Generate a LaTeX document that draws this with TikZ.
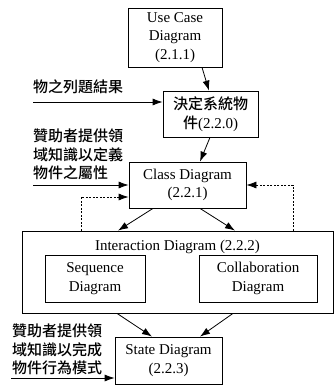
\documentclass[tikz,border=0pt]{standalone}
\usepackage{fontspec}
\setmainfont{Liberation Serif}
\newfontfamily\cjk{Noto Sans CJK TC Medium}
\usetikzlibrary{arrows.meta}
\begin{document}
\begin{tikzpicture}[x=1pt,y=-1pt,
  font=\fontsize{15}{18.5}\selectfont,
  box/.style={draw,line width=0.8pt,inner sep=0pt,align=center},
  arr/.style={line width=0.8pt,-{Latex[length=10pt,width=7pt]}},
  darr/.style={line width=0.8pt,dash pattern=on 2pt off 1.5pt,-{Latex[length=10pt,width=7pt]}},
  note/.style={anchor=north west,inner sep=0pt,align=left,font=\fontsize{15}{18.5}\selectfont\cjk}]
\useasboundingbox (0,0) rectangle (336,385);
\node[box,minimum width=94pt,minimum height=59pt] (uc) at (175,37.5) {Use Case\\Diagram\\(2.1.1)};
\node[box,minimum width=95pt,minimum height=46pt] (dec) at (210.5,114) {\raisebox{-2pt}{\cjk 決定系統物}\\\raisebox{-2pt}{{\cjk 件}(2.2.0)}};
\node[box,minimum width=117pt,minimum height=46pt] (cls) at (187.5,185) {Class Diagram\\(2.2.1)};
\node[box,minimum width=311pt,minimum height=82pt] (inter) at (177.5,272) {};
\node[anchor=base,inner sep=0pt] (ititle) at (177.5,250) {Interaction Diagram (2.2.2)};
\node[box,minimum width=100pt,minimum height=47pt] (seq) at (95,278.5) {Sequence\\Diagram};
\node[box,minimum width=118pt,minimum height=47pt] (col) at (258,278.5) {Collaboration\\Diagram};
\node[box,minimum width=107pt,minimum height=47pt] (st) at (168.5,360.5) {State Diagram\\(2.2.3)};
\node[note] (n1) at (33,80) {物之列題結果};
\node[note] (n2) at (33,129) {贊助者提供領\\域知識以定義\\物件之屬性};
\node[note] (n3) at (12,324) {贊助者提供領\\域知識以完成\\物件行為模式};
\coordinate (s1) at (33,102);
\coordinate (s2) at (33,185);
\coordinate (s3) at (11,378);
\draw[arr] (s1) -- (s1 -| dec.west);
\draw[arr] (s2) -- (s2 -| cls.west);
\draw[arr] (s3) -- (s3 -| st.west);
\draw[arr] ([xshift=27pt]uc.south) -- ([xshift=-1.5pt]dec.north);
\draw[arr] ([xshift=-0.5pt]dec.south) -- ([xshift=12.5pt]cls.north);
\draw[arr] ([xshift=-34.5pt]cls.south) -- ([xshift=-59.5pt]inter.north);
\draw[arr] ([xshift=12.5pt]cls.south) -- ([xshift=57.5pt]inter.north);
\draw[arr] ([xshift=-60.5pt]inter.south) -- ([xshift=-16.5pt]st.north);
\draw[arr] ([xshift=55.5pt]inter.south) -- ([xshift=31.5pt]st.north);
\coordinate (dl) at (81,197);
\coordinate (dr) at (293,185);
\draw[darr] (dl |- inter.north) -- (dl) -- (dl -| cls.west);
\draw[darr] (dr |- inter.north) -- (dr) -- (dr -| cls.east);
\end{tikzpicture}
\end{document}
